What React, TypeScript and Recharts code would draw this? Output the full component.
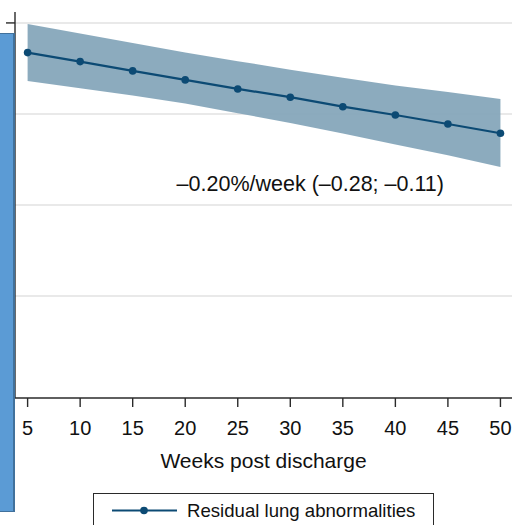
import React from 'react';
import {
  ComposedChart,
  Area,
  Line,
  XAxis,
  YAxis,
  CartesianGrid,
  Legend,
  ReferenceDot,
  Label,
} from 'recharts';

const weeks = [5, 10, 15, 20, 25, 30, 35, 40, 45, 50];
const estimate = [36.74, 35.75, 34.73, 33.74, 32.75, 31.84, 30.8, 29.89, 28.9, 27.88];
const ciLow = [33.63, 32.83, 32.03, 31.15, 30.08, 29.01, 27.86, 26.65, 25.46, 24.18];
const ciHigh = [39.89, 38.84, 37.8, 36.76, 35.8, 34.87, 33.98, 33.14, 32.4, 31.65];
const xTicks = [5, 10, 15, 20, 25, 30, 35, 40, 45, 50];
// gridlines sit on these; the bottom tick at 0 is hidden behind the blue panel
const yTicks = [10, 20, 30, 40];
const slopeText = '\u20130.20%/week (\u20130.28; \u20130.11)';

const data = weeks.map((w, i) => ({
  week: w,
  est: estimate[i],
  ci: [ciLow[i], ciHigh[i]],
}));

const NAVY = '#0c4a74';
const BAND = '#86a6ba';
const AXIS = '#2a2a2a';

function LegendBox() {
  return (
    <div
      style={{
        width: 341,
        height: 40,
        border: `1px solid ${AXIS}`,
        background: '#fff',
        display: 'flex',
        alignItems: 'flex-start',
        boxSizing: 'border-box',
      }}
    >
      <svg width={84} height={34} style={{ flex: 'none' }}>
        <line x1={18} y1={16.5} x2={83} y2={16.5} stroke={NAVY} strokeWidth={2.2} />
        <circle cx={50} cy={16.5} r={3.8} fill={NAVY} />
      </svg>
      <span
        style={{
          marginLeft: 9,
          fontSize: 18.6,
          lineHeight: '33px',
          color: '#111',
        }}
      >
        Residual lung abnormalities
      </span>
    </div>
  );
}

export default function App() {
  return (
    <div
      style={{
        position: 'absolute',
        left: 0,
        top: 0,
        width: 526,
        height: 525,
        overflow: 'hidden',
        background: '#fff',
        fontFamily: '"Liberation Sans", Arial, sans-serif',
      }}
    >
      <ComposedChart
        width={526}
        height={525}
        data={data}
        margin={{ top: 12, right: 14, bottom: 47, left: 0 }}
      >
        <CartesianGrid
          vertical={false}
          syncWithTicks
          stroke="#e2e2e2"
          strokeWidth={1.5}
        />
        <XAxis
          dataKey="week"
          type="number"
          domain={[3.8, 51.1]}
          ticks={xTicks}
          allowDataOverflow
          height={80}
          tickSize={9}
          tickMargin={14}
          axisLine={{ stroke: AXIS, strokeWidth: 1.4 }}
          tickLine={{ stroke: AXIS, strokeWidth: 1.4 }}
          tick={{ fontSize: 20, fill: '#111' }}
        >
          <Label
            value="Weeks post discharge"
            position="insideBottom"
            offset={10}
            style={{ fontSize: 21, fill: '#111' }}
          />
        </XAxis>
        <YAxis
          type="number"
          domain={[-1.2, 41.2]}
          ticks={yTicks}
          allowDataOverflow
          width={15}
          tickSize={9}
          tick={() => <g />}
          axisLine={{ stroke: AXIS, strokeWidth: 1.4 }}
          tickLine={{ stroke: AXIS, strokeWidth: 1.4 }}
        />
        <Area
          dataKey="ci"
          type="linear"
          stroke="none"
          fill={BAND}
          fillOpacity={0.95}
          isAnimationActive={false}
          legendType="none"
        />
        <Line
          dataKey="est"
          type="linear"
          stroke={NAVY}
          strokeWidth={2.2}
          dot={{ r: 3.8, fill: NAVY, stroke: 'none' }}
          activeDot={false}
          isAnimationActive={false}
          name="Residual lung abnormalities"
        />
        <ReferenceDot
          x={31.9}
          y={22.4}
          r={0}
          stroke="none"
          fill="none"
          label={{ value: slopeText, position: 'center', fontSize: 21.5, fill: '#111' }}
        />
        <Legend
          layout="horizontal"
          verticalAlign="middle"
          align="center"
          content={() => <LegendBox />}
          wrapperStyle={{ left: 93, top: 493, width: 'auto' }}
        />
      </ComposedChart>
      <div
        style={{
          position: 'absolute',
          left: -2,
          top: 33,
          width: 14,
          height: 477,
          background: '#5b9bd5',
          border: '1px solid #41719c',
          borderRightWidth: 2,
        }}
      />
    </div>
  );
}
